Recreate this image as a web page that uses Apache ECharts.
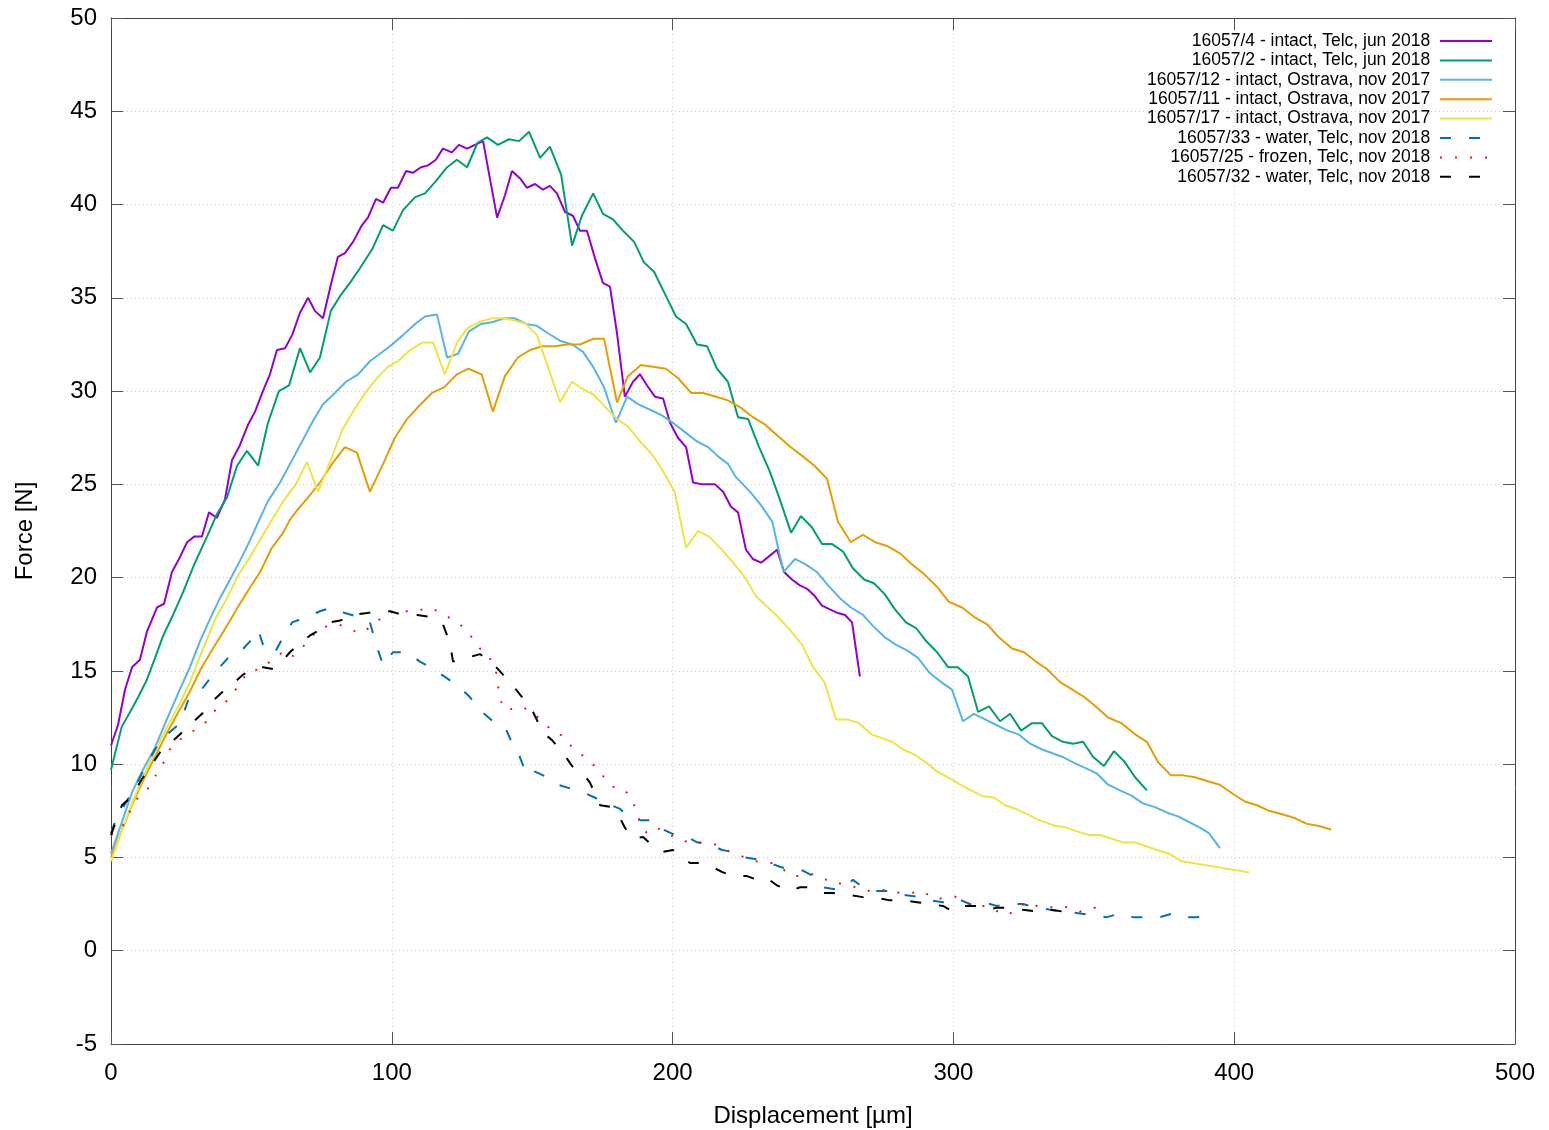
<!DOCTYPE html>
<html>
<head>
<meta charset="utf-8">
<script src="https://cdn.jsdelivr.net/npm/echarts@6/dist/echarts.min.js"></script>
<style>
  html, body { margin: 0; padding: 0; background: #fff; }
  #chart { width: 1549px; height: 1130px; }
</style>
</head>
<body>
<div id="chart"></div>
<script>
// Series names (legend order)
var names = [
  '16057/4 - intact, Telc, jun 2018',
  '16057/2 - intact, Telc, jun 2018',
  '16057/12 - intact, Ostrava, nov 2017',
  '16057/11 - intact, Ostrava, nov 2017',
  '16057/17 - intact, Ostrava, nov 2017',
  '16057/33 - water, Telc, nov 2018',
  '16057/25 - frozen, Telc, nov 2018',
  '16057/32 - water, Telc, nov 2018'
];

// [displacement um, force N]
var s4 = [[0,11.0],[2.5,12.1],[5,14.0],[7.5,15.2],[10.3,15.6],[12.8,17.1],[16.4,18.4],[18.9,18.6],[21.7,20.3],[23.9,20.9],[27.1,21.9],[29.6,22.2],[32.4,22.2],[34.9,23.5],[37.7,23.2],[40.6,24.2],[43.1,26.3],[45.9,27.1],[48.8,28.2],[51.3,28.9],[54.1,30.0],[56.6,30.9],[59.1,32.2],[62,32.3],[64.5,33.0],[67.3,34.2],[70.2,35.0],[72.6,34.3],[75.5,33.9],[78.3,35.7],[80.8,37.2],[83.3,37.4],[86.2,38.0],[89.4,38.9],[91.5,39.3],[94.4,40.3],[96.9,40.1],[99.7,40.9],[102.2,40.9],[105.1,41.8],[107.5,41.7],[110.4,42.0],[112.9,42.1],[115.7,42.4],[118.2,43.0],[121.4,42.8],[123.9,43.2],[126.8,43.0],[129.6,43.2],[132.5,43.4],[137.5,39.3],[140.3,40.5],[142.8,41.8],[145.7,41.4],[148.1,40.9],[151,41.1],[153.8,40.8],[156.3,41.0],[158.8,40.6],[161.7,39.6],[164.5,39.4],[167,38.6],[169.5,38.6],[172.4,37.1],[175.2,35.8],[177.7,35.6],[180.2,33.1],[183,29.7],[185.9,30.5],[188.4,30.9],[190.9,30.3],[193.7,29.7],[196.6,29.6],[199.1,28.3],[201.9,27.5],[204.8,27.0],[207.3,25.1],[210.5,25.0],[212.6,25.0],[215.1,25.0],[218,24.6],[220.8,23.8],[223.3,23.5],[226.1,21.5],[228.6,21.0],[231.5,20.8],[234,21.1],[237.2,21.5],[239.7,20.3],[242.5,19.9],[245.2,19.6],[247.9,19.4],[250.7,19.0],[253.2,18.5],[256,18.3],[258.9,18.1],[261.4,18.0],[263.9,17.6],[266.7,14.7]];

var s2 = [[0,9.7],[3.8,12.0],[6.8,12.8],[9.7,13.6],[12.7,14.5],[15.7,15.7],[18.6,16.9],[22.1,18.0],[25.6,19.2],[29.9,20.8],[34.2,22.2],[37.7,23.4],[41.3,24.3],[44.9,26.0],[48.4,26.8],[52.4,26.0],[55.9,28.3],[59.8,30.0],[63.4,30.3],[67.3,32.3],[70.9,31.0],[74.4,31.8],[78.3,34.3],[81.6,35.1],[85.1,35.8],[88.7,36.6],[93,37.6],[96.9,38.9],[100.4,38.6],[104,39.7],[108.3,40.4],[111.8,40.6],[115.4,41.2],[119.7,42.0],[123.2,42.4],[126.8,42.0],[130.5,43.3],[133.9,43.6],[137.8,43.2],[141.7,43.5],[145.3,43.4],[148.9,43.9],[152.8,42.5],[156.3,43.1],[160.3,41.6],[164.2,37.8],[167.7,39.4],[171.7,40.6],[175.2,39.5],[178.8,39.2],[182.3,38.6],[186.3,38.0],[189.8,36.9],[193.4,36.4],[197.3,35.2],[201.2,34.0],[204.8,33.6],[208.7,32.5],[212.3,32.4],[215.8,31.2],[219.7,30.5],[223.3,28.6],[226.9,28.5],[230.8,27.0],[234.6,25.7],[238.4,24.1],[242.2,22.4],[245.7,23.3],[249.6,22.7],[253.2,21.8],[256.8,21.8],[260.7,21.4],[264.2,20.5],[268.2,19.9],[271.7,19.7],[275.6,19.1],[279.2,18.3],[283.1,17.6],[286.7,17.3],[290.3,16.6],[294.2,16.0],[298.1,15.2],[301.6,15.2],[305.2,14.7],[308.8,12.8],[312.7,13.1],[316.6,12.3],[320.2,12.7],[324.1,11.8],[328,12.2],[331.5,12.2],[335.1,11.5],[339,11.2],[342.6,11.1],[346.2,11.2],[349.7,10.4],[353.6,9.9],[357.2,10.7],[361.1,10.1],[364.7,9.3],[368.9,8.6]];

var s12 = [[0,5.2],[3.2,6.6],[7.5,8.5],[11.4,9.7],[15.7,10.9],[19.9,12.4],[23.9,13.8],[28.1,15.2],[31.7,16.6],[35.3,17.8],[38.8,18.9],[42.4,19.9],[45.9,20.9],[49.5,22.0],[52.8,23.1],[55.9,24.1],[60.2,25.1],[64.5,26.3],[68.4,27.4],[71.9,28.4],[75.5,29.3],[79.1,29.8],[83.7,30.5],[88,30.9],[92.2,31.6],[95.8,32.0],[100.1,32.5],[104,33.0],[108.3,33.6],[111.8,34.0],[116.1,34.1],[119.7,31.8],[123.6,32.0],[127.5,33.2],[131.8,33.6],[136,33.7],[140,33.9],[143.9,33.9],[147.8,33.6],[151.7,33.5],[155.6,33.1],[159.9,32.7],[164.2,32.5],[168.1,32.1],[171.7,31.3],[175.6,30.2],[179.8,28.3],[183.8,29.7],[187.7,29.3],[192,29.0],[196.2,28.7],[200.1,28.3],[204.4,27.8],[208.7,27.3],[212.6,27.0],[216.2,26.5],[219.7,26.1],[222.5,25.4],[227.6,24.6],[231.4,23.9],[235.5,23.0],[239.5,20.3],[243.6,21.0],[247.5,20.7],[251.4,20.3],[255.3,19.6],[259.6,18.9],[263.5,18.4],[267.8,18.0],[271.4,17.4],[275.6,16.8],[279.6,16.4],[283.5,16.1],[287.4,15.7],[291.5,14.9],[295.7,14.4],[299.5,14.0],[303.4,12.3],[307.3,12.7],[311.3,12.4],[315.3,12.1],[319.3,11.8],[323.2,11.6],[327.3,11.1],[331.4,10.8],[335,10.6],[338.7,10.4],[342.6,10.1],[346.9,9.8],[351.1,9.5],[355.1,8.9],[359.3,8.6],[363.6,8.3],[367.5,7.9],[371.8,7.7],[376.1,7.4],[380,7.2],[383.9,6.9],[387.8,6.6],[391,6.3],[394.9,5.5]];

var s11 = [[0,5.0],[4,6.5],[8,8.0],[12,9.3],[16,10.5],[20,11.7],[24,12.8],[28.1,13.9],[32,15.1],[35.5,16.0],[38.8,16.8],[42.4,17.7],[45.5,18.5],[48.4,19.2],[53.1,20.3],[57.3,21.6],[61.3,22.4],[63.7,23.1],[66.2,23.6],[70.2,24.3],[74.4,25.1],[78.7,26.1],[83.3,27.0],[87.6,26.7],[92.2,24.6],[96.9,26.1],[101.1,27.5],[105.4,28.5],[109.7,29.2],[114.3,29.9],[118.6,30.2],[123.2,30.9],[127.3,31.2],[132,30.9],[136,28.9],[140.3,30.8],[144.9,31.8],[149.2,32.2],[153.5,32.4],[158.1,32.4],[162.4,32.5],[167,32.5],[171.7,32.8],[175.6,32.8],[180.2,29.4],[184.1,30.8],[188.7,31.4],[193,31.3],[197.6,31.2],[201.9,30.7],[206.6,29.9],[210.8,29.9],[215.5,29.7],[219.7,29.5],[224.4,29.1],[228.6,28.6],[233,28.2],[237.4,27.6],[242,27.0],[246.4,26.5],[250.5,26.0],[255,25.3],[258.9,23.0],[263.5,21.9],[267.8,22.3],[272.1,21.9],[276.4,21.7],[281,21.3],[285.3,20.7],[289.5,20.2],[294.2,19.5],[298.4,18.7],[303.1,18.4],[307.3,17.9],[312,17.5],[316.2,16.8],[320.9,16.2],[325.1,16.0],[329.4,15.5],[333.3,15.1],[338,14.4],[342.4,14.0],[346.6,13.6],[350.6,13.1],[355.1,12.5],[359.8,12.2],[364.7,11.6],[368.9,11.2],[372.9,10.1],[377.5,9.4],[381.8,9.4],[386,9.3],[390.3,9.1],[394.9,8.9],[399.6,8.4],[403.8,8.0],[408.1,7.8],[412.4,7.5],[417.4,7.3],[421.7,7.1],[425.9,6.8],[429.8,6.7],[434.5,6.5]];

var s17 = [[0,4.8],[4,6.5],[8,8.1],[12,9.5],[16,10.8],[20,12.0],[24,13.1],[28.1,14.4],[32,15.9],[35,17.0],[37.5,17.9],[41.3,18.9],[45.2,20.1],[49.5,21.1],[53.8,22.2],[57.7,23.2],[61.8,24.2],[65.8,25.0],[69.8,26.2],[73.7,24.6],[78,26.2],[82.3,27.9],[86.2,28.9],[90.5,29.9],[94.7,30.7],[98.6,31.3],[102.2,31.6],[106.5,32.2],[110.8,32.6],[114.7,32.6],[118.9,30.9],[123.2,32.6],[127.1,33.4],[131.2,33.7],[135.5,33.9],[139.6,33.9],[143.5,33.8],[147.8,33.6],[151.7,33.0],[155.6,31.3],[159.9,29.4],[164.2,30.5],[168.1,30.1],[172,29.8],[176.3,29.1],[180.2,28.5],[184.1,28.1],[188.4,27.3],[192.7,26.6],[196.6,25.7],[200.7,24.6],[204.8,21.6],[209,22.5],[213,22.2],[217.6,21.5],[221.5,20.8],[225.4,20.1],[229.7,19.0],[234,18.4],[237.5,17.9],[241.8,17.2],[246.1,16.4],[250,15.2],[254.1,14.4],[258.2,12.4],[262.1,12.4],[266.4,12.2],[270.7,11.6],[274.5,11.4],[278.1,11.2],[282,10.8],[286.3,10.5],[290.2,10.1],[294.2,9.6],[298.1,9.3],[302.4,8.9],[306.3,8.6],[310.2,8.3],[314.5,8.2],[318.4,7.8],[322.3,7.6],[326.6,7.3],[330.5,7.0],[334.4,6.8],[336.2,6.7],[340.1,6.6],[344,6.4],[348.3,6.2],[352.2,6.2],[356.5,6.0],[360.4,5.8],[364.7,5.8],[368.6,5.6],[372.5,5.4],[376.8,5.2],[381.1,4.8],[385.3,4.7],[389.2,4.6],[393.5,4.5],[397.4,4.4],[401.4,4.3],[405.3,4.2]];

var s33 = [[0,6.3],[1.4,6.9],[2.5,7.2],[7.5,8.5],[11.4,9.6],[15.7,10.8],[19.2,11.5],[24.6,12.2],[27.4,13.4],[31.7,13.9],[36.3,14.8],[41.7,15.7],[45.9,16.0],[50.2,16.7],[52.4,17.2],[54.8,16.1],[58.4,16.0],[60.9,16.7],[64.5,17.6],[69.8,17.9],[74.4,18.2],[78.7,18.4],[83.3,18.1],[88,17.9],[92.2,17.6],[94.7,16.3],[96.9,15.3],[100.4,16.0],[105.4,16.0],[110,15.5],[114.7,15.1],[119.7,14.6],[124.3,14.1],[127.8,13.6],[131.4,12.9],[136,12.3],[140.3,12.0],[143.2,11.0],[145.3,10.5],[148.1,9.4],[151,9.6],[155.3,9.3],[159.2,8.9],[163.5,8.7],[168.1,8.5],[172.4,8.2],[176.6,7.9],[181.3,7.6],[184.1,7.2],[188.4,7.0],[192.7,7.0],[196.6,6.5],[200.9,6.2],[205.1,6.1],[209,5.8],[213.3,5.7],[217.6,5.4],[221.5,5.3],[225.8,5.0],[230.1,4.9],[234.7,4.7],[238.2,4.5],[242.5,4.3],[246.4,4.3],[250,4.0],[253.6,3.4],[257.8,3.3],[262.1,3.5],[264.2,3.8],[267.8,3.4],[272.8,3.2],[277.4,3.2],[282.1,3.0],[287,2.9],[291.7,2.7],[296.3,2.6],[301.3,2.8],[305.9,2.5],[310.5,2.6],[315.5,2.4],[320.2,2.5],[324.8,2.5],[329.8,2.3],[334.4,2.2],[339,2.1],[345.1,2.0],[349.7,1.9],[354.7,1.8],[359.3,2.0],[364,1.8],[368.9,1.8],[373.6,1.8],[378.2,2.0],[381.8,1.8],[386.8,1.8],[391.4,1.9]];

var s25 = [[0,6.2],[3.9,6.6],[7.5,7.7],[9.6,8.2],[12.8,8.6],[16.7,9.6],[19.2,10.2],[21,10.8],[23.5,11.2],[27.1,11.6],[30.6,11.9],[33.5,12.2],[36.3,12.8],[39.5,13.1],[42.4,13.6],[44.9,14.1],[47,14.6],[49.5,15.0],[53.8,15.1],[56.6,15.5],[62,16.1],[64.8,15.8],[68,16.2],[70.2,16.7],[73.4,17.1],[76.9,17.4],[80.8,17.5],[84.4,17.3],[88.7,17.0],[91.9,17.3],[95.1,17.7],[98.3,18.1],[101.9,18.2],[105.4,18.2],[109,18.2],[112.9,18.4],[116.5,18.2],[120,17.9],[123.2,17.6],[126.8,17.2],[128.9,16.7],[131.4,16.2],[134.3,15.9],[136,15.3],[137.5,14.8],[137.8,14.2],[138.5,13.6],[139.6,13.0],[141.4,12.9],[145.3,13.1],[149.2,12.9],[152.1,12.5],[154.9,12.1],[157.8,11.7],[161.3,11.5],[164.2,10.9],[167,10.6],[169.9,10.2],[173.1,9.8],[175.6,9.3],[178.4,8.8],[182.3,8.7],[184.8,8.3],[186.6,7.7],[187.7,7.2],[189.1,6.6],[190.9,6.3],[194.4,6.6],[198.4,6.2],[201.9,6.1],[205.5,5.8],[209,5.8],[213.3,5.8],[216.9,5.6],[220.4,5.3],[224,5.1],[227.6,4.9],[231.8,4.7],[235.8,4.7],[239,4.4],[242.5,4.0],[246.1,4.0],[250,4.1],[253.6,3.9],[257.1,3.6],[261.4,3.6],[265.2,3.4],[269.2,3.2],[273.1,3.3],[277.1,3.2],[281,3.1],[284.9,3.1],[289.2,3.2],[292.7,2.8],[296.3,2.8],[300.6,2.9],[304.1,2.6],[308,2.4],[312,2.4],[315.9,2.1],[319.1,1.9],[322.6,2.2],[325.9,2.6],[329.8,2.4],[333.7,2.3],[337.6,2.4],[341.5,2.3],[345.1,2.1],[348.6,2.3],[352.2,2.3]];

var s32 = [[0,6.2],[3.9,7.8],[7.5,8.3],[11,9.2],[14.6,10.0],[18.2,10.8],[21.7,11.2],[25.3,11.7],[28.8,12.2],[32.4,12.7],[37,13.5],[39.9,13.9],[43.4,14.3],[47,14.8],[50.6,15.1],[54.1,15.2],[57.7,15.1],[60.9,15.5],[63.7,16.0],[67.3,16.5],[70.9,16.9],[74.4,17.2],[78,17.6],[81.6,17.7],[86.2,18.0],[91.2,18.1],[95.8,18.2],[99.4,18.2],[104,18.0],[109,18.0],[113.6,17.9],[118.2,17.5],[120.7,16.5],[121.8,15.5],[126.8,15.7],[131.4,15.9],[136,15.4],[139.6,14.8],[143.2,14.2],[147.4,13.4],[150.3,12.8],[153.8,11.7],[157,11.3],[161,10.6],[164.2,9.9],[168.1,9.5],[170.6,9.0],[174.2,7.8],[178.4,7.7],[181.3,7.1],[183,6.6],[185.9,6.0],[189.5,6.1],[193,5.6],[196.6,5.3],[200.1,5.4],[203.7,5.0],[206.2,4.7],[209.8,4.7],[214,4.5],[217.9,4.2],[222.2,4.0],[226.5,4.0],[230.1,3.8],[233.6,3.9],[237.2,3.5],[241.8,3.2],[245.4,3.4],[249.5,3.4],[253.6,3.1],[257.1,3.1],[262.1,3.0],[266.7,2.9],[270,2.8],[273.9,2.8],[277.4,2.7],[282.1,2.7],[287,2.6],[291.7,2.5],[296.3,2.4],[299.9,2.1],[303.4,2.4],[308.4,2.4],[312,2.2],[315.5,2.3],[320.2,2.3],[324.8,2.2],[329.8,2.1],[334.4,2.2],[339,2.1],[341.5,2.1]];

var seriesData = [s4, s2, s12, s11, s17, s33, s25, s32];
var colors = ['#9400d3', '#009e73', '#56b4e9', '#e69f00', '#f0e442', '#0072b2', '#e51e10', '#000000'];
var dashes = ['solid', 'solid', 'solid', 'solid', 'solid', [11, 18], [2, 13], [11, 18]];

var xTicks = { min: 0, max: 500, step: 100 };
var yTicks = { min: -5, max: 50, step: 5 };

var font = '"Liberation Sans", Arial, Helvetica, sans-serif';
var frameColor = '#444';

function makeAxis(pos, ticks, isX, main) {
  return {
    type: 'value',
    position: pos,
    min: ticks.min,
    max: ticks.max,
    interval: ticks.step,
    name: main ? (isX ? 'Displacement [µm]' : 'Force [N]') : '',
    nameLocation: 'middle',
    nameGap: isX ? 60 : 74,
    nameTextStyle: { fontFamily: font, fontSize: 24, color: '#000' },
    axisLine: { show: true, onZero: false, lineStyle: { color: frameColor, width: 1 } },
    axisTick: { show: true, inside: true, length: 12, lineStyle: { color: '#555', width: 1 } },
    axisLabel: {
      show: main,
      fontFamily: font,
      fontSize: 24,
      color: '#000',
      margin: isX ? 17 : 14
    },
    splitLine: {
      show: main,
      lineStyle: { color: '#cfcfcf', width: 1, type: [1, 3] }
    }
  };
}

var chart = echarts.init(document.getElementById('chart'), null, { renderer: 'canvas' });

var series = seriesData.map(function (d, i) {
  return {
    name: names[i],
    type: 'line',
    data: d,
    xAxisIndex: 0,
    yAxisIndex: 0,
    symbol: 'none',
    showSymbol: false,
    smooth: false,
    color: colors[i],
    lineStyle: { color: colors[i], width: 2, type: dashes[i] }
  };
});

chart.setOption({
  animation: false,
  backgroundColor: '#fff',
  grid: { left: 111, right: 34, top: 18, bottom: 86, containLabel: false, outerBoundsMode: 'none' },
  xAxis: [makeAxis('bottom', xTicks, true, true), makeAxis('top', xTicks, true, false)],
  yAxis: [makeAxis('left', yTicks, false, true), makeAxis('right', yTicks, false, false)],
  legend: {
    data: names,
    orient: 'vertical',
    right: 51,
    top: 27,
    align: 'right',
    itemWidth: 52,
    itemHeight: 14,
    itemGap: 1.4,
    itemStyle: { opacity: 0 },
    formatter: function (n) { return n + ' '; },
    textStyle: { fontFamily: font, fontSize: 17.5, color: '#000' }
  },
  series: series
});
</script>
</body>
</html>
